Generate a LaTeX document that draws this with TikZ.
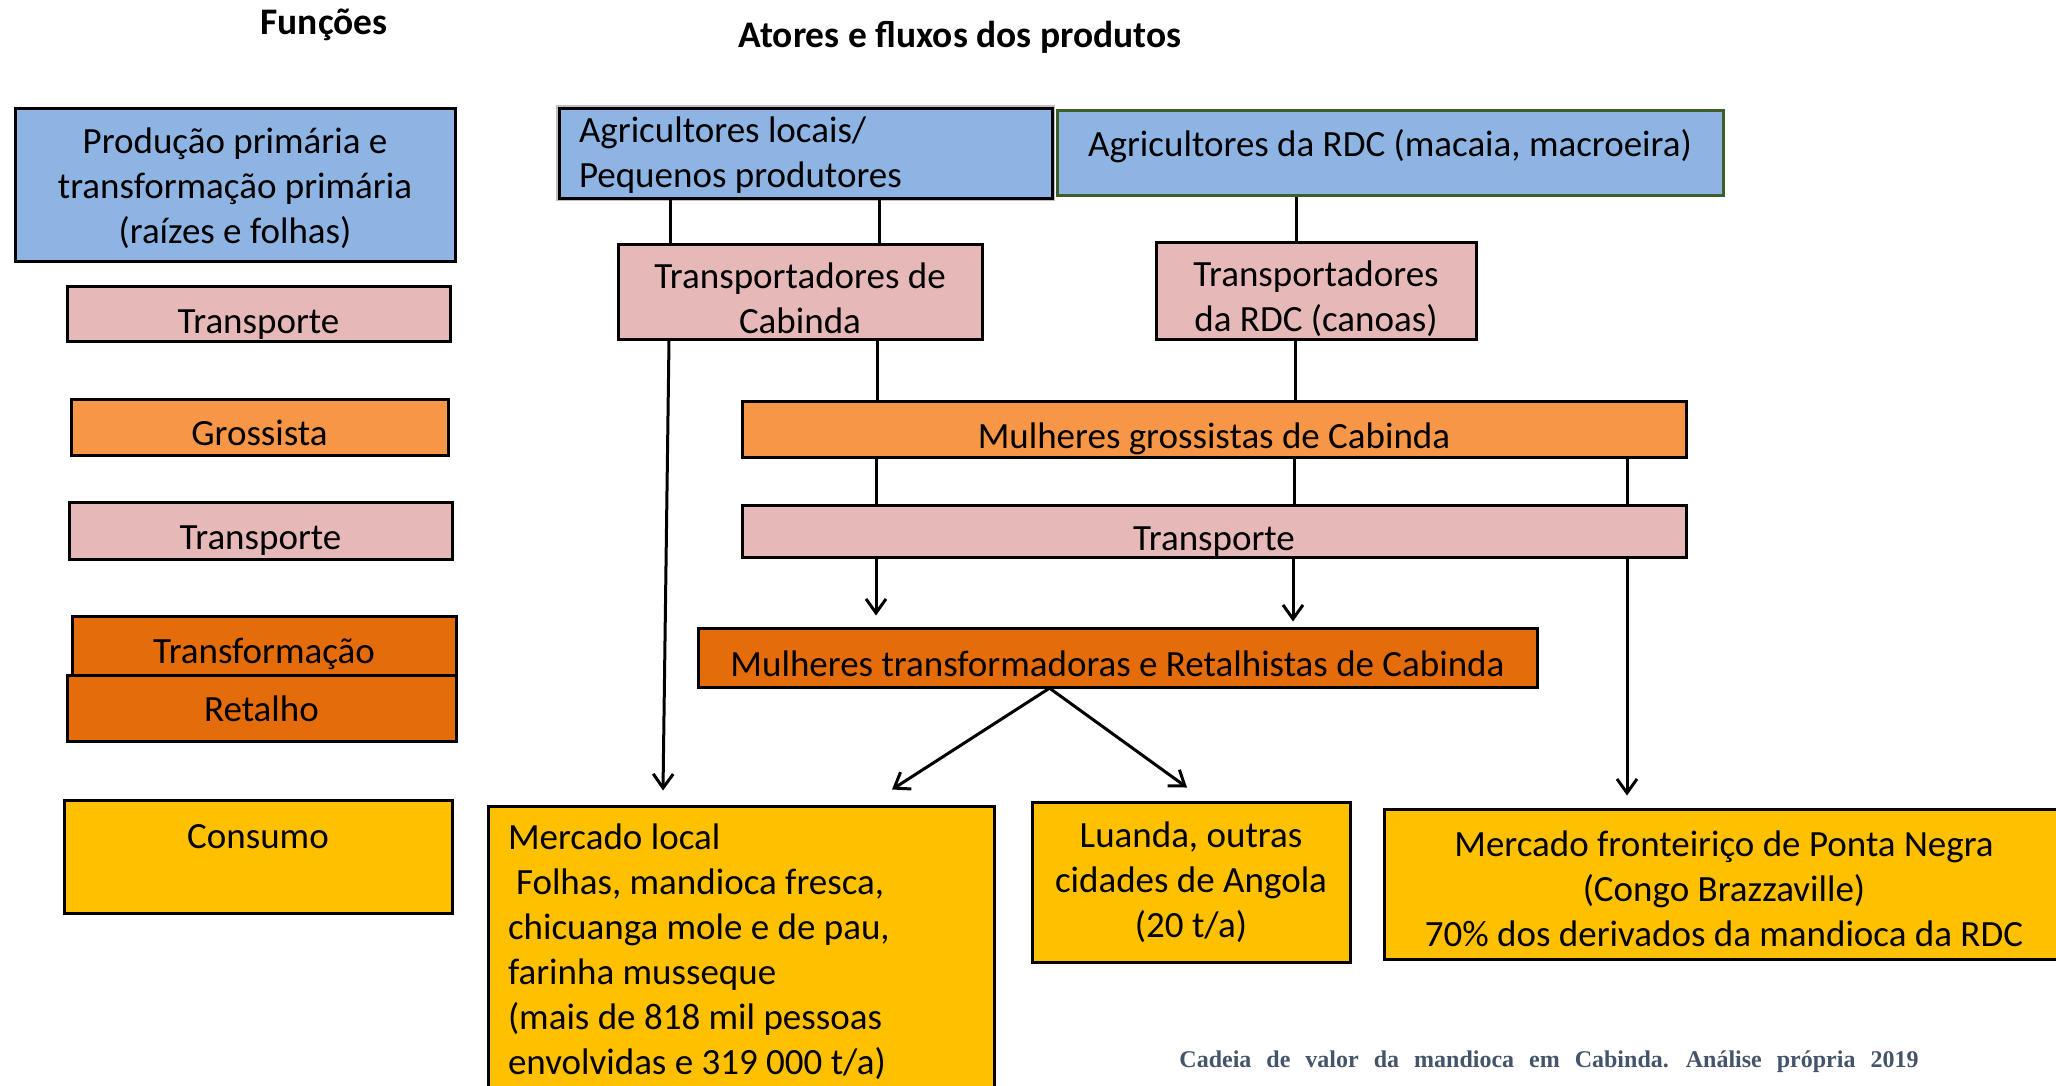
\documentclass[tikz,border=0pt]{standalone}
\usepackage{fontspec}
\setmainfont{Carlito}
\newfontfamily\capfont{Liberation Serif}
\usetikzlibrary{arrows.meta,calc}
\definecolor{cblue}{HTML}{8EB4E3}
\definecolor{cpink}{HTML}{E6B9B8}
\definecolor{corange}{HTML}{F79646}
\definecolor{cdark}{HTML}{E46C0A}
\definecolor{cgold}{HTML}{FFC000}
\definecolor{cgreen}{HTML}{3F5F2A}
\definecolor{ccap}{HTML}{44546A}
% text block lowered by #2 pt inside its box, box size kept
\newcommand\tb[3][c]{\raisebox{-#2pt}[\height][\depth]{\begin{tabular}{@{}#1@{}}#3\end{tabular}}}
\begin{document}
\begin{tikzpicture}[x=1pt,y=-1pt,
  box/.style={draw=black, line width=3pt, inner sep=0pt, font=\fontsize{37}{45}\selectfont},
  conn/.style={line width=3pt},
  arr/.style={line width=3pt, -{Straight Barb[length=14pt,width=20pt]}},
  ttl/.style={font=\bfseries\fontsize{37.5}{44}\selectfont, anchor=base}
]
\useasboundingbox (0,0) rectangle (2056,1085);
\fill[white] (0,0) rectangle (2056,1085);

% titles
\node[ttl] (t1) at (324,34) {Funções};
\node[ttl] (t2) at (960,47) {Atores e fluxos dos produtos};

% functions column
\node[box, fill=cblue, minimum width=440pt, minimum height=153pt] (prod) at (235,184.5) {\tb{5}{Produção primária e\\transformação primária\\(raízes e folhas)}};
\node[box, fill=cpink, minimum width=383pt, minimum height=55pt] (fT1) at (258.5,313.5) {\tb{11}{Transporte}};
\node[box, fill=corange, minimum width=377pt, minimum height=56pt] (fG) at (259.5,427) {\tb{9}{Grossista}};
\node[box, fill=cpink, minimum width=383pt, minimum height=57pt] (fT2) at (260.5,530.5) {\tb{9.5}{Transporte}};
\node[box, fill=cdark, minimum width=384pt, minimum height=59pt] (fTr) at (264,645.5) {\tb{8.5}{Transformação}};
\node[box, fill=cdark, minimum width=389pt, minimum height=66pt] (fR) at (261.5,708) {\tb{4}{Retalho}};
\node[box, fill=cgold, minimum width=388pt, text height=48pt, text depth=65pt, anchor=north] (fC) at (258,799) {Consumo};

% actors
\node[box, fill=cblue, minimum width=493pt, minimum height=86pt,
      preaction={draw=black!25, line width=6pt}] (agL) at (805.5,153) {\tb[p{453pt}]{3}{Agricultores locais/\\Pequenos produtores}};
\node[box, draw=cgreen, fill=cblue, minimum width=666pt, minimum height=85pt] (agR) at (1390,152.5) {\tb{-5}{Agricultores da RDC (macaia, macroeira)}};
\node[box, fill=cpink, minimum width=364pt, minimum height=95pt] (trC) at (800,291.5) {\tb{10.5}{Transportadores de\\Cabinda}};
\node[box, fill=cpink, minimum width=320pt, minimum height=97pt] (trR) at (1316,290.5) {\tb{9}{Transportadores\\da RDC (canoas)}};
\node[box, fill=corange, minimum width=944pt, minimum height=56pt] (gro) at (1214,429) {\tb{10}{Mulheres grossistas de Cabinda}};
\node[box, fill=cpink, minimum width=944pt, minimum height=52pt] (trW) at (1214,531) {\tb{10}{Transporte}};
\node[box, fill=cdark, minimum width=839pt, minimum height=59pt] (mt) at (1117.5,657.5) {\tb{9.5}{Mulheres transformadoras e Retalhistas de Cabinda}};
\node[box, fill=cgold, minimum width=506pt, minimum height=294pt] (mloc) at (741,953)
  {\tb[p{466pt}]{0}{Mercado local\\\hspace*{8pt}Folhas, mandioca fresca,\\chicuanga mole e de pau,\\farinha musseque\\(mais de 818 mil pessoas\\envolvidas e 319 000 t/a)}};
\node[box, fill=cgold, minimum width=318pt, minimum height=160pt] (luanda) at (1191,882) {\tb{1}{Luanda, outras\\cidades de Angola\\(20 t/a)}};
\node[box, fill=cgold, minimum width=680pt, minimum height=150pt] (ponta) at (1724,884) {\tb{8}{Mercado fronteiriço de Ponta Negra\\(Congo Brazzaville)\\70\% dos derivados da mandioca da RDC}};

% caption
\node[font=\capfont\bfseries\fontsize{24}{28}\selectfont, text=ccap, anchor=base] (cap) at (1549,1067) {\spaceskip=15pt Cadeia de valor da mandioca em Cabinda. Análise própria 2019};

% connectors
\draw[conn] (agL.south -| 670,0) -- (trC.north -| 670,0);
\draw[conn] (agL.south -| 879,0) -- (trC.north -| 879,0);
\draw[conn] (agR.south -| 1296,0) -- (trR.north -| 1296,0);
\draw[conn] (trC.south -| 877,0) -- (gro.north -| 877,0);
\draw[conn] (trR.south -| 1295,0) -- (gro.north -| 1295,0);
\draw[conn] (gro.south -| 876,0) -- (trW.north -| 876,0);
\draw[conn] (gro.south -| 1294,0) -- (trW.north -| 1294,0);
\draw[conn] (gro.south -| 1627,0) -- (trW.north -| 1627,0);
\draw[arr] (trW.south -| 876,0) -- ($(mt.north -| 876,0)+(0,-11)$);
\draw[arr] (trW.south -| 1293,0) -- ($(mt.north -| 1293,0)+(0,-5)$);
\draw[arr] (trW.south -| 1627,0) -- ($(ponta.north -| 1627,0)+(0,-12)$);
\draw[arr] (trC.south -| 669,0) -- ($(mloc.north -| 663,0)+(0,-14)$);
\draw[arr] (mt.south -| 1049,0) -- ($(mloc.north -| 892,0)+(0,-15)$);
\draw[arr] (mt.south -| 1050,0) -- ($(luanda.north -| 1187,0)+(0,-13)$);
\end{tikzpicture}
\end{document}
